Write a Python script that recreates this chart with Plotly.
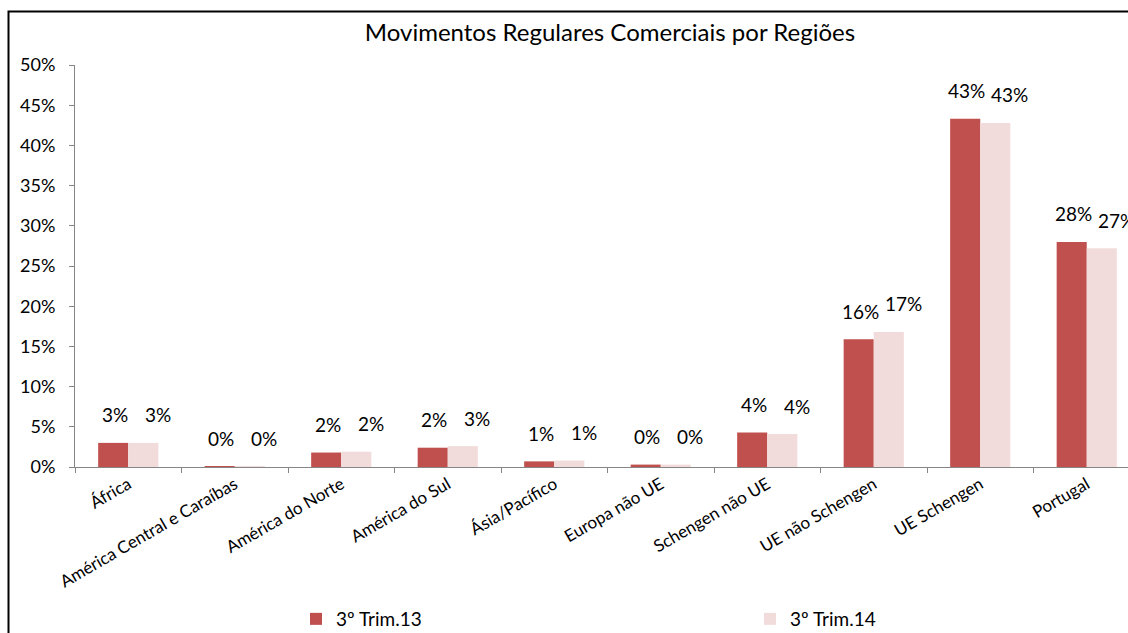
import plotly.graph_objects as go

categories = ["África", "América Central e Caraíbas", "América do Norte", "América do Sul",
              "Ásia/Pacífico", "Europa não UE", "Schengen não UE", "UE não Schengen",
              "UE Schengen", "Portugal"]
trim13 = [3.0, 0.1, 1.8, 2.4, 0.7, 0.3, 4.3, 15.9, 43.3, 28.0]
trim14 = [3.0, 0.1, 1.9, 2.6, 0.8, 0.3, 4.1, 16.8, 42.8, 27.2]
series_names = ["3º Trim.13", "3º Trim.14"]
colors = ["#C0504D", "#F2DCDB"]
yticks = [0, 5, 10, 15, 20, 25, 30, 35, 40, 45, 50]

W, H = 1128, 633
ML, MR, MT, MB = 75, 0, 65, 633 - 467
font = "Lato, 'Open Sans', sans-serif"

fig = go.Figure()
for name, vals, col in zip(series_names, [trim13, trim14], colors):
    fig.add_trace(go.Bar(x=categories, y=vals, name=name, marker=dict(color=col, line=dict(width=0))))

# data labels
annotations = []
offsets = [-15.5 + 2, 15.5 + 14]
for si, vals in enumerate([trim13, trim14]):
    for c, v in zip(categories, vals):
        annotations.append(dict(
            x=c, y=v, xref="x", yref="y", text=f"{round(v):.0f}%", showarrow=False,
            xshift=offsets[si], yshift=28, yanchor="middle", xanchor="center",
            font=dict(family=font, size=19, color="#000000")))

plot_w = W - ML - MR
plot_h = H - MT - MB

fig.update_layout(
    width=W, height=H,
    margin=dict(l=ML, r=MR, t=MT, b=MB, autoexpand=False),
    paper_bgcolor="white", plot_bgcolor="white",
    barmode="group", bargap=0.435, bargroupgap=0.0,
    font=dict(family=font, size=18, color="#000000"),
    title=dict(text="Movimentos Regulares Comerciais por Regiões", xref="container", yref="container",
               x=610 / W, y=1 - 33 / H, xanchor="center", yanchor="middle",
               automargin=False, font=dict(family=font, size=24, color="#000000")),
    xaxis=dict(range=[-0.5, -0.5 + plot_w / 106.5], showline=True, linecolor="#868686", linewidth=1,
               ticks="outside", tickson="boundaries", ticklen=5, tickcolor="#868686",
               tickangle=-30, tickfont=dict(family=font, size=17, color="#000000"),
               showgrid=False, zeroline=False, automargin=False),
    yaxis=dict(range=[0, 50], tickvals=yticks, ticktext=[f"{t}%" for t in yticks],
               showline=True, linecolor="#868686", linewidth=1, ticks="outside", ticklen=5,
               tickcolor="#868686", showgrid=False, zeroline=False, automargin=False,
               tickfont=dict(family=font, size=18, color="#000000"), ticklabelstandoff=10),
    legend=dict(orientation="h", xref="container", yref="container", x=296 / W,
                y=1 - 619 / H, xanchor="left", yanchor="middle",
                entrywidth=409, entrywidthmode="pixels",
                font=dict(family=font, size=19, color="#000000"), itemwidth=30, traceorder="normal"),
    annotations=annotations,
    shapes=[dict(type="rect", xref="paper", yref="paper",
                 x0=(8.5 - ML) / plot_w, x1=1.2,
                 y0=-1.0, y1=(H - MB - 11.5) / plot_h,
                 line=dict(color="#000000", width=2), fillcolor="rgba(0,0,0,0)", layer="above")],
)

fig.write_html("out.html", config={"displayModeBar": False},
               post_script="document.body.style.margin='0';document.body.style.overflow='hidden';")
